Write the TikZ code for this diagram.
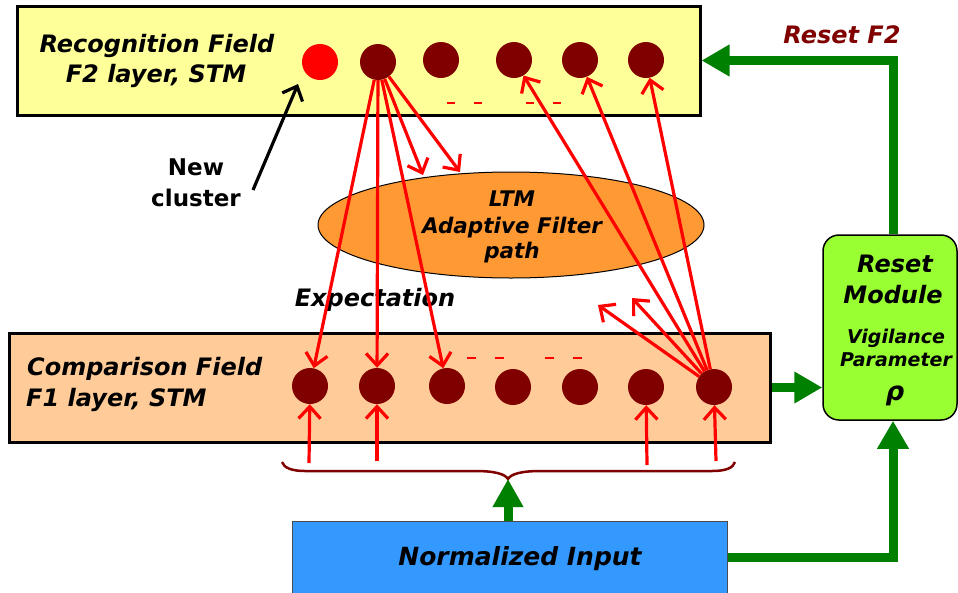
\documentclass[tikz,border=0pt]{standalone}
\usepackage{fontspec}
\setmainfont{DejaVu Sans}
\usetikzlibrary{arrows.meta,shapes.geometric}
\definecolor{lyellow}{HTML}{FFFF99}
\definecolor{lpeach}{HTML}{FFCC99}
\definecolor{maroon}{HTML}{800000}
\definecolor{lorange}{HTML}{FF9933}
\definecolor{lgreen}{HTML}{99FF33}
\definecolor{lblue}{HTML}{3399FF}
\definecolor{dgreen}{HTML}{008000}
\begin{document}
\begin{tikzpicture}[x=1pt,y=-1pt,
  lbl/.style={font=\fontsize{24}{28}\selectfont\bfseries\itshape, inner sep=0},
  lblm/.style={font=\fontsize{21.5}{25}\selectfont\bfseries\itshape, inner sep=0},
  lbls/.style={font=\fontsize{19}{23}\selectfont\bfseries\itshape, inner sep=0},
  dot/.style={circle, fill=maroon, minimum size=36pt, inner sep=0},
  rarr/.style={draw=red, line width=3.2pt, -{Straight Barb[length=12pt,width=22pt]}},
  barr/.style={draw=black, line width=3.2pt, -{Straight Barb[length=12pt,width=22pt]}},
  garr/.style={draw=dgreen, line width=9pt, -{Triangle[length=28pt,width=30pt]}},
  dsh/.style={draw=red, line width=2pt},
  field/.style={draw=black, line width=3pt, inner sep=0}
]
\clip (0,0) rectangle (958,592);
\fill[white] (0,0) rectangle (958,592);

% boxes
\node[field, fill=lyellow, minimum width=683pt, minimum height=109pt] (f2box) at (358.5,60.5) {};
\node[field, fill=lpeach, minimum width=761pt, minimum height=109pt] (f1box) at (389.5,387.5) {};
\node[draw=black, line width=1.5pt, fill=lgreen, rounded corners=16pt, minimum width=134pt, minimum height=185pt, inner sep=0] (reset) at (890,327.5) {};
\node[draw=black!70, line width=1pt, fill=lblue, minimum width=435pt, minimum height=72pt, inner sep=0] (norm) at (509.5,557) {};
\node[ellipse, draw=black, line width=1pt, fill=lorange, minimum width=386pt, minimum height=106pt, inner sep=0] (ltm) at (511,225) {};

% texts
\node[lbl, anchor=base] (t1) at (157,52) {Recognition Field};
\node[lbl, anchor=base] (t2) at (156,82) {F2 layer, STM};
\node[lbl, anchor=base west] (t3) at (27,375) {Comparison Field};
\node[lbl, anchor=base west] (t4) at (26,406) {F1 layer, STM};
\node[lbl, anchor=base, text=maroon] (t5) at (842,43) {Reset F2};
\node[lblm, anchor=base] (t6) at (512,206) {LTM};
\node[lblm, anchor=base] (t7) at (512,233) {Adaptive Filter};
\node[lblm, anchor=base] (t8) at (512,258) {path};
\node[lbl, anchor=base] (t9) at (375,306) {Expectation};
\node[font=\fontsize{23}{27}\selectfont\bfseries, inner sep=0, anchor=base] (t10) at (196,175) {New};
\node[font=\fontsize{23}{27}\selectfont\bfseries, inner sep=0, anchor=base] (t11) at (196,206) {cluster};
\node[font=\fontsize{25}{29}\selectfont\bfseries\itshape, inner sep=0, anchor=base] (t12) at (520,565) {Normalized Input};
\node[lbl, anchor=base] (t13) at (895,272) {Reset};
\node[lbl, anchor=base] (t14) at (893,303) {Module};
\node[lbls, anchor=base] (t15) at (896,343) {Vigilance};
\node[lbls, anchor=base] (t16) at (896,366) {Parameter};
\node[font=\fontsize{26}{30}\selectfont\bfseries\itshape, inner sep=0, anchor=base] (t17) at (895,400) {ρ};

% dashes
\draw[dsh] (447,103) -- (455,103);
\draw[dsh] (474,103) -- (482,103);
\draw[dsh] (526,103) -- (534,103);
\draw[dsh] (553,103) -- (561,103);
\draw[dsh] (467,358) -- (476,358);
\draw[dsh] (495,358) -- (504,358);
\draw[dsh] (545,358) -- (554,358);
\draw[dsh] (573,358) -- (582,358);

% F2 units
\node[dot, fill=red] (f2a) at (320,62) {};
\node[dot] (f2b) at (378,62) {};
\node[dot] (f2c) at (441,60) {};
\node[dot] (f2d) at (514,60) {};
\node[dot] (f2e) at (580,60) {};
\node[dot] (f2f) at (646,60) {};
% F1 units
\node[dot] (f1a) at (310,386) {};
\node[dot] (f1b) at (377,386) {};
\node[dot] (f1c) at (447,386) {};
\node[dot] (f1d) at (513,387) {};
\node[dot] (f1e) at (580,387) {};
\node[dot] (f1f) at (646,387) {};
\node[dot] (f1g) at (714,387) {};

% free ends
\coordinate (e1) at (423,175);
\coordinate (e2) at (460,172);
\coordinate (e3) at (598,305);
\coordinate (e4) at (632,298);
\coordinate (i1) at (309,463);
\coordinate (i2) at (377,461);
\coordinate (i3) at (647,465);
\coordinate (i4) at (716,461);
\coordinate (nc) at (253,190);
\coordinate (nct) at (298,84);
\coordinate (btip) at (508,479);

% red connections
\draw[rarr] (f2b) -- (f1a);
\draw[rarr] (f2b) -- (f1b);
\draw[rarr] (f2b) -- (f1c);
\draw[rarr] (f2b) -- (e1);
\draw[rarr] (f2b) -- (e2);
\draw[rarr] (f1g) -- (f2d);
\draw[rarr] (f1g) -- (f2e);
\draw[rarr] (f1g) -- (f2f);
\draw[rarr] (f1g) -- (e3);
\draw[rarr] (f1g) -- (e4);
\draw[rarr] (i1) -- (f1a);
\draw[rarr] (i2) -- (f1b);
\draw[rarr] (i3) -- (f1f);
\draw[rarr] (i4) -- (f1g);
\draw[barr] (nc) -- (nct);

% brace
\draw[maroon, line width=2.5pt] (282,462) .. controls (284,468) and (292,471) .. (305,471) -- (475,471) .. controls (495,471) and (505,474) .. (btip) .. controls (511,474) and (521,471) .. (541,471) -- (712,471) .. controls (726,471) and (733,468) .. (735,462);

% green connections
\draw[garr] ([xshift=3pt]reset.north) |- (f2box.east);
\draw[garr] (f1box.east) -- (reset.west |- f1box.east);
\draw[garr] (norm.east) -| ([xshift=3pt]reset.south);
\draw[garr, -{Triangle[length=28pt,width=29pt]}] (norm.north -| btip) -- (btip);
\end{tikzpicture}
\end{document}
